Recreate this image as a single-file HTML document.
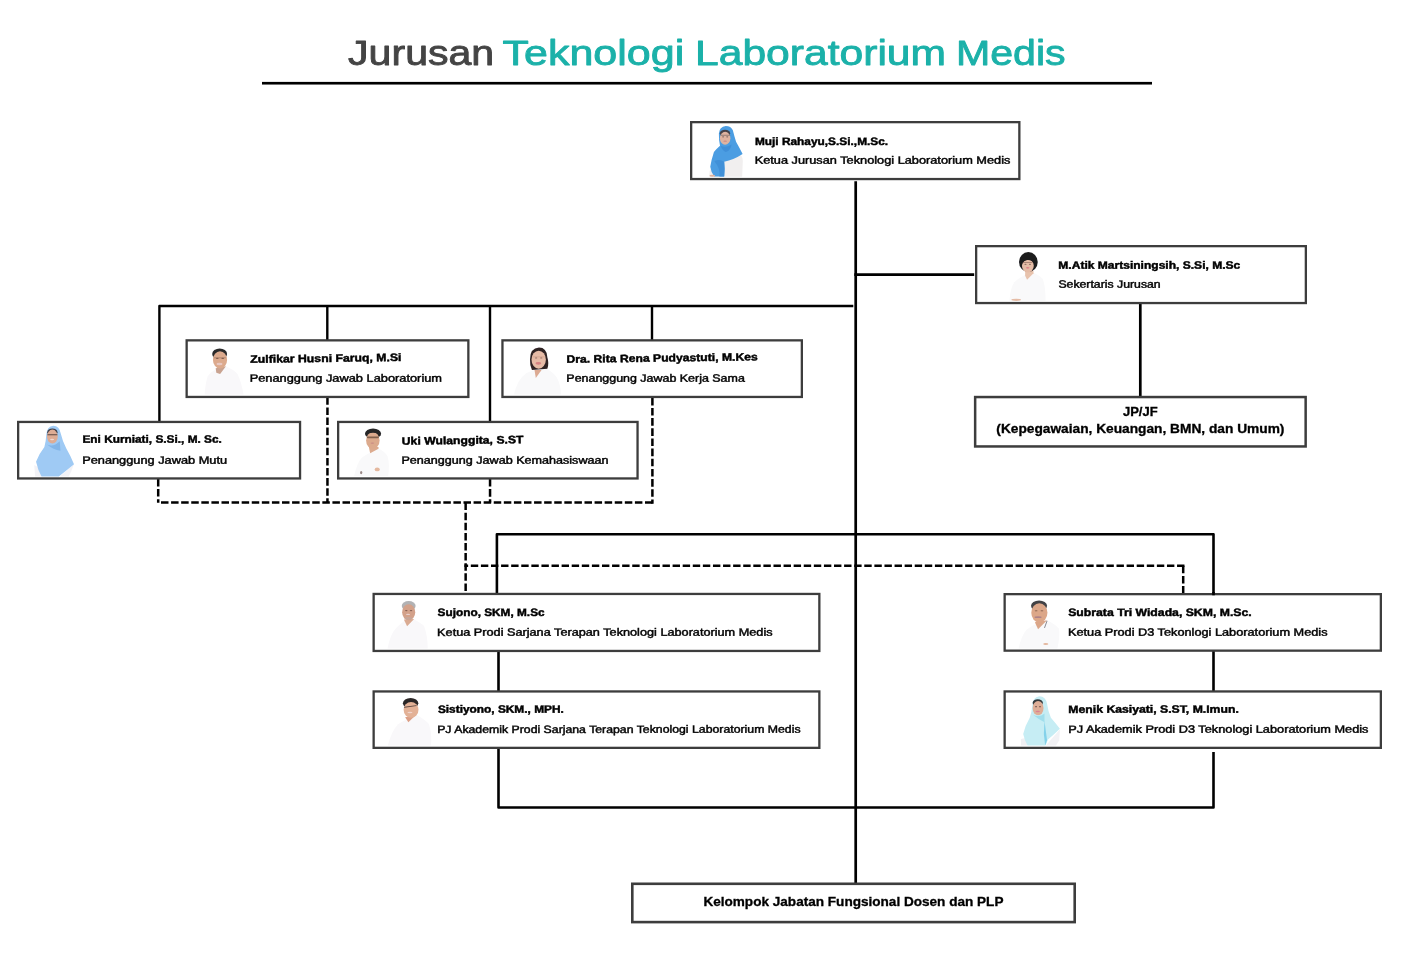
<!DOCTYPE html>
<html lang="id">
<head>
<meta charset="utf-8">
<title>Jurusan Teknologi Laboratorium Medis</title>
<style>
html,body{margin:0;padding:0;background:#fff;}
body{width:1414px;height:966px;overflow:hidden;position:relative;font-family:"Liberation Sans",sans-serif;}
svg{position:absolute;left:0;top:0;display:block;will-change:transform;}
text{font-family:"Liberation Sans",sans-serif;}
.nm{font-weight:700;font-size:10.7px;fill:#000;stroke:#000;stroke-width:.45px;}
.rl{font-weight:400;font-size:10.7px;fill:#050505;stroke:#050505;stroke-width:.45px;}
.bt{font-weight:700;font-size:12px;fill:#000;stroke:#000;stroke-width:.3px;}
.tt{font-size:35.3px;stroke-width:.85px;stroke-linejoin:round;}
.tg{fill:#444;stroke:#444;}
.tc{fill:#1bb1a9;stroke:#1bb1a9;}
.ln{stroke:#000;fill:none;stroke-width:2.7;}
.l2{stroke:#000;fill:none;stroke-width:2.4;stroke-linejoin:round;}
.ds{stroke:#000;fill:none;stroke-width:2.5;stroke-dasharray:7.5 2.6;}
.bx{fill:#fff;stroke:#3d3d3d;stroke-width:2.3;}
</style>
</head>
<body>
<svg width="1414" height="966" viewBox="0 0 1414 966">
<defs><filter id="bl" x="-10%" y="-10%" width="120%" height="120%"><feGaussianBlur stdDeviation="11"/></filter></defs>
<rect x="262" y="81.9" width="890" height="2.65" fill="#000"/>
<path class="ln" d="M855.7 181.2V883"/>
<path class="ln" d="M854.3 274.7H974.2"/>
<path class="ln" d="M1140.3 304V397"/>
<path class="l2" d="M853.3 306H159.4V422"/>
<path class="l2" d="M327.3 306V340"/>
<path class="l2" d="M490 306V422"/>
<path class="l2" d="M652 306V340"/>
<path class="ds" d="M158.2 479V502.8"/>
<path class="ds" style="stroke-dasharray:7.5 2.583" d="M161 502.6H653.7"/>
<path class="ds" style="stroke-dasharray:7.6 2.56" d="M652.4 397.8V503.8"/>
<path class="ds" style="stroke-dasharray:7.55 2.55" d="M327.45 397.3V502.6"/>
<path class="ds" style="stroke-dasharray:7.6 2.5" d="M490.05 479V502.6"/>
<path class="ds" d="M465.65 502.6V594"/>
<path class="ds" style="stroke-dasharray:7.4 2.689" d="M1184.45 565.8H464.4"/>
<path class="ds" style="stroke-dasharray:7.5 2.65" d="M1183.2 565.8V594"/>
<path class="l2" style="stroke-width:2.6" d="M1213.5 751.9V807.5H498.5V640"/>
<path class="l2" style="stroke-width:2.6" d="M496.9 600V534.3H1213.5V700"/>
<rect class="bx" x="691.15" y="122.15" width="328.20" height="56.90"/>
<rect class="bx" x="976.15" y="246.15" width="329.70" height="56.90"/>
<rect class="bx" x="186.65" y="340.35" width="281.70" height="56.60"/>
<rect class="bx" x="502.45" y="340.35" width="299.40" height="56.60"/>
<rect class="bx" x="18.15" y="421.95" width="281.90" height="56.50"/>
<rect class="bx" x="338.15" y="421.95" width="299.40" height="56.50"/>
<rect class="bx" x="373.65" y="593.95" width="445.70" height="57.00"/>
<rect class="bx" x="373.65" y="691.45" width="445.70" height="56.40"/>
<rect class="bx" x="1004.65" y="594.15" width="376.20" height="56.50"/>
<rect class="bx" x="1004.65" y="691.45" width="376.20" height="56.40"/>
<rect class="bx" style="stroke-width:2.5" x="975.15" y="397.05" width="330.50" height="49.40"/>
<rect class="bx" style="stroke-width:2.6" x="632.30" y="883.80" width="442.40" height="38.30"/>
<text class="tt tg" x="348.08" y="65.10" textLength="146.14" lengthAdjust="spacingAndGlyphs">Jurusan</text>
<text class="tt tc" x="502.46" y="65.10" textLength="181.75" lengthAdjust="spacingAndGlyphs">Teknologi</text>
<text class="tt tc" x="695.06" y="65.10" textLength="250.98" lengthAdjust="spacingAndGlyphs">Laboratorium</text>
<text class="tt tc" x="955.9" y="65.10" textLength="109.74" lengthAdjust="spacingAndGlyphs">Medis</text>
<text class="nm" x="754.91" y="145.00" textLength="133.24" lengthAdjust="spacingAndGlyphs" transform="rotate(-0.03 821.5 145.00)">Muji Rahayu,S.Si.,M.Sc.</text>
<text class="rl" x="754.71" y="163.80" textLength="255.65" lengthAdjust="spacingAndGlyphs" transform="rotate(-0.03 882.8 163.80)">Ketua Jurusan Teknologi Laboratorium Medis</text>
<text class="nm" x="1058.34" y="268.80" textLength="181.97" lengthAdjust="spacingAndGlyphs" transform="rotate(-0.03 1149.4 268.80)">M.Atik Martsiningsih, S.Si, M.Sc</text>
<text class="rl" x="1058.41" y="287.80" textLength="102.28" lengthAdjust="spacingAndGlyphs" transform="rotate(-0.03 1109.4 287.80)">Sekertaris Jurusan</text>
<text class="nm" x="250.37" y="362.87" textLength="151.13" lengthAdjust="spacingAndGlyphs" transform="rotate(-0.72 250.5 362.87)">Zulfikar Husni Faruq, M.Si</text>
<text class="rl" x="249.67" y="381.70" textLength="192.4" lengthAdjust="spacingAndGlyphs" transform="rotate(-0.03 346.0 381.70)">Penanggung Jawab Laboratorium</text>
<text class="nm" x="566.57" y="362.80" textLength="191.23" lengthAdjust="spacingAndGlyphs" transform="rotate(-0.72 567.2 362.80)">Dra. Rita Rena Pudyastuti, M.Kes</text>
<text class="rl" x="566.35" y="381.70" textLength="178.46" lengthAdjust="spacingAndGlyphs" transform="rotate(-0.03 655.9 381.70)">Penanggung Jawab Kerja Sama</text>
<text class="nm" x="82.45" y="442.80" textLength="139.4" lengthAdjust="spacingAndGlyphs" transform="rotate(-0.03 152.1 442.80)">Eni Kurniati, S.Si., M. Sc.</text>
<text class="rl" x="82.15" y="463.70" textLength="145.0" lengthAdjust="spacingAndGlyphs" transform="rotate(-0.03 154.8 463.70)">Penanggung Jawab Mutu</text>
<text class="nm" x="401.81" y="444.70" textLength="121.71" lengthAdjust="spacingAndGlyphs" transform="rotate(-0.72 402.2 444.70)">Uki Wulanggita, S.ST</text>
<text class="rl" x="401.44" y="463.70" textLength="207.06" lengthAdjust="spacingAndGlyphs" transform="rotate(-0.03 505.1 463.70)">Penanggung Jawab Kemahasiswaan</text>
<text class="nm" x="437.63" y="616.05" textLength="106.97" lengthAdjust="spacingAndGlyphs" transform="rotate(-0.03 491.1 616.05)">Sujono, SKM, M.Sc</text>
<text class="rl" x="437.11" y="635.80" textLength="335.49" lengthAdjust="spacingAndGlyphs" transform="rotate(-0.03 605.2 635.80)">Ketua Prodi Sarjana Terapan Teknologi Laboratorium Medis</text>
<text class="nm" x="437.9" y="712.85" textLength="125.92" lengthAdjust="spacingAndGlyphs" transform="rotate(-0.03 500.7 712.85)">Sistiyono, SKM., MPH.</text>
<text class="rl" x="437.15" y="732.90" textLength="363.41" lengthAdjust="spacingAndGlyphs" transform="rotate(-0.03 619.1 732.90)">PJ Akademik Prodi Sarjana Terapan Teknologi Laboratorium Medis</text>
<text class="nm" x="1068.2" y="615.94" textLength="183.48" lengthAdjust="spacingAndGlyphs" transform="rotate(-0.03 1159.8 615.94)">Subrata Tri Widada, SKM, M.Sc.</text>
<text class="rl" x="1067.96" y="635.80" textLength="259.56" lengthAdjust="spacingAndGlyphs" transform="rotate(-0.03 1197.9 635.80)">Ketua Prodi D3 Tekonlogi Laboratorium Medis</text>
<text class="nm" x="1068.36" y="712.85" textLength="170.47" lengthAdjust="spacingAndGlyphs" transform="rotate(-0.03 1153.6 712.85)">Menik Kasiyati, S.ST, M.Imun.</text>
<text class="rl" x="1068.17" y="732.80" textLength="300.35" lengthAdjust="spacingAndGlyphs" transform="rotate(-0.03 1218.7 732.80)">PJ Akademik Prodi D3 Teknologi Laboratorium Medis</text>
<text class="bt" x="1122.96" y="415.80" textLength="34.73" lengthAdjust="spacingAndGlyphs">JP/JF</text>
<text class="bt" x="996.34" y="433.00" textLength="288.1" lengthAdjust="spacingAndGlyphs">(Kepegawaian, Keuangan, BMN, dan Umum)</text>
<text class="bt" x="703.41" y="906.20" textLength="300.05" lengthAdjust="spacingAndGlyphs">Kelompok Jabatan Fungsional Dosen dan PLP</text>
<g transform="translate(695 120) scale(0.06416)" filter="url(#bl)"><path d="M222 885 L228 800 Q240 745 300 720 L460 640 L690 535 Q745 560 745 640 L735 885 Z" fill="#f1efef"/>
<path d="M480 92 Q380 100 372 210 Q370 320 390 400 Q330 450 295 500 Q255 620 238 730 Q250 820 300 882 L455 882 Q470 760 455 650 Q600 620 742 528 Q690 430 640 340 Q615 260 590 160 Q560 92 480 92 Z" fill="#4b9de2"/>
<path d="M300 640 Q380 600 455 650 Q465 760 455 882 L380 882 Q400 760 300 640Z" fill="#4090d8"/>
<path d="M400 400 Q480 440 570 380 Q560 470 480 500 Q420 470 400 400Z" fill="#3f8fd8"/>
<ellipse cx="468" cy="205" rx="80" ry="52" fill="#45434a"/>
<ellipse cx="470" cy="285" rx="82" ry="100" fill="#dfb3a0"/>
<ellipse cx="438" cy="262" rx="16" ry="9" fill="#5a4744" opacity=".7"/><ellipse cx="502" cy="262" rx="16" ry="9" fill="#5a4744" opacity=".7"/>
<rect x="395" y="230" width="155" height="15" rx="7" fill="#7b6a66" opacity=".75"/>
<ellipse cx="470" cy="330" rx="28" ry="10" fill="#cf8a84"/>
<ellipse cx="270" cy="870" rx="45" ry="16" fill="#dfb3a0"/></g>
<g transform="translate(995 245) scale(0.06416)" filter="url(#bl)"><path d="M225 872 Q235 680 300 580 Q340 540 470 465 L600 430 Q700 480 745 530 Q790 650 788 872 Z" fill="#f9f9fa"/>
<path d="M470 400 L600 400 L600 440 L500 540 L470 480Z" fill="#e8c3ad"/>
<ellipse cx="520" cy="265" rx="146" ry="155" fill="#1b1b1d"/>
<ellipse cx="512" cy="322" rx="92" ry="105" fill="#e5bca6"/>
<ellipse cx="475" cy="300" rx="16" ry="9" fill="#4a3530" opacity=".7"/><ellipse cx="545" cy="300" rx="16" ry="9" fill="#4a3530" opacity=".7"/>
<path d="M418 300 Q425 200 520 188 Q605 195 612 290 Q570 225 500 235 Q450 245 418 300Z" fill="#1b1b1d"/>
<ellipse cx="510" cy="355" rx="28" ry="10" fill="#dc6f7e"/>
<rect x="430" y="268" width="160" height="12" rx="6" fill="#6a4a40" opacity=".6"/>
<ellipse cx="330" cy="855" rx="75" ry="16" fill="#e5bca6"/></g>
<g transform="translate(190 338) scale(0.06416)" filter="url(#bl)"><path d="M228 882 Q240 700 275 600 Q310 540 420 485 L560 440 Q690 500 740 560 Q800 680 835 882 Z" fill="#f9f8fa"/>
<path d="M400 470 L560 440 L470 560 L410 540Z" fill="#c9a391"/>
<ellipse cx="462" cy="250" rx="116" ry="88" fill="#2a2a2c"/>
<ellipse cx="468" cy="342" rx="110" ry="135" fill="#dcaa8d"/>
<ellipse cx="425" cy="318" rx="20" ry="9" fill="#5a3c30" opacity=".65"/><ellipse cx="510" cy="318" rx="20" ry="9" fill="#5a3c30" opacity=".65"/>
<rect x="370" y="302" width="190" height="14" rx="7" fill="#7a5a4c" opacity=".6"/>
<ellipse cx="460" cy="405" rx="48" ry="20" fill="#e8c8c2"/></g>
<g transform="translate(505 338) scale(0.06416)" filter="url(#bl)"><path d="M140 882 Q190 650 330 550 Q400 510 620 460 Q760 540 810 620 Q872 740 872 882 Z" fill="#f9f9fa"/>
<path d="M530 150 Q390 160 390 330 Q385 430 420 500 L660 480 Q690 400 660 300 Q650 150 530 150Z" fill="#2e2224"/>
<ellipse cx="525" cy="338" rx="112" ry="140" fill="#e6bba6"/>
<ellipse cx="485" cy="310" rx="18" ry="9" fill="#6a4a44" opacity=".6"/><ellipse cx="565" cy="310" rx="18" ry="9" fill="#6a4a44" opacity=".6"/>
<path d="M460 500 L570 500 L480 625Z" fill="#dcaa92"/>
<ellipse cx="520" cy="395" rx="45" ry="20" fill="#d68282"/>
<rect x="430" y="290" width="190" height="10" rx="5" fill="#c99a88" opacity=".8"/></g>
<g transform="translate(20 420) scale(0.06416)" filter="url(#bl)"><path d="M222 700 L330 760 L330 882 L235 882Z" fill="#f2f2f6"/>
<path d="M620 882 L840 690 L800 800 L760 882Z" fill="#f2f2f6"/>
<path d="M520 88 Q420 95 410 230 Q405 330 380 420 Q300 520 250 650 Q280 780 335 882 L605 882 Q720 790 842 690 Q790 560 720 440 Q660 320 635 210 Q615 90 520 88Z" fill="#9fcaf4"/>
<path d="M420 380 Q520 430 620 330 L630 480 Q520 460 420 380Z" fill="#82b5e8"/>
<ellipse cx="505" cy="190" rx="80" ry="58" fill="#3e3e48"/>
<ellipse cx="505" cy="258" rx="84" ry="108" fill="#deac94"/>

<rect x="425" y="222" width="160" height="16" rx="8" fill="#3a3030" opacity=".8"/>
<ellipse cx="500" cy="305" rx="32" ry="12" fill="#f0d8d0"/></g>
<g transform="translate(340 420) scale(0.06416)" filter="url(#bl)"><path d="M220 872 Q270 660 340 590 Q380 550 600 440 Q700 500 740 560 Q780 700 750 872 Z" fill="#f9f9fa"/>
<path d="M450 420 L600 420 L600 450 L470 520Z" fill="#dcab8f"/>
<ellipse cx="515" cy="212" rx="125" ry="80" fill="#262628"/>
<ellipse cx="512" cy="318" rx="105" ry="130" fill="#dcaa8d"/>
<path d="M395 240 Q400 150 515 140 Q630 150 635 250 Q600 200 515 200 Q430 200 395 240Z" fill="#262628"/>
<rect x="420" y="258" width="185" height="28" rx="12" fill="#5a4030" opacity=".7"/>
<ellipse cx="505" cy="360" rx="30" ry="10" fill="#c98a84"/>
<ellipse cx="580" cy="770" rx="40" ry="30" fill="#e4b89e"/>
<ellipse cx="330" cy="820" rx="18" ry="26" fill="#9a8a88"/></g>
<g transform="translate(375 592) scale(0.06416)" filter="url(#bl)"><path d="M195 882 Q235 660 330 560 Q380 510 450 455 L610 430 Q720 490 765 530 Q820 680 822 882Z" fill="#f9f8fa"/>
<path d="M450 430 L610 420 L500 535Z" fill="#daab92"/>
<ellipse cx="525" cy="218" rx="108" ry="76" fill="#b2b2b4"/>
<ellipse cx="525" cy="315" rx="102" ry="125" fill="#d3a18a"/>
<ellipse cx="488" cy="290" rx="20" ry="9" fill="#5a3c34" opacity=".65"/><ellipse cx="562" cy="290" rx="20" ry="9" fill="#5a3c34" opacity=".65"/>
<ellipse cx="515" cy="350" rx="32" ry="10" fill="#e8cfcb"/>
<ellipse cx="520" cy="410" rx="60" ry="22" fill="#c7a79a"/></g>
<g transform="translate(375 689) scale(0.06416)" filter="url(#bl)"><path d="M200 882 Q260 650 360 550 Q420 500 660 410 Q780 480 840 545 Q892 700 872 882Z" fill="#f9f8fa"/>
<path d="M470 440 L640 400 L520 520Z" fill="#dc9f86"/>
<ellipse cx="555" cy="222" rx="120" ry="80" fill="#2b2727"/>
<ellipse cx="562" cy="325" rx="116" ry="124" fill="#e3b196"/>

<rect x="450" y="265" width="200" height="13" rx="6" fill="#3a2a28" opacity=".8" transform="rotate(-8 550 272)"/>
<ellipse cx="545" cy="365" rx="40" ry="12" fill="#f0d4cc"/></g>
<g transform="translate(1006 592) scale(0.06416)" filter="url(#bl)"><path d="M195 882 Q240 680 320 590 Q360 550 450 505 L650 440 Q770 510 825 570 Q842 700 800 882Z" fill="#f9f9fa"/>
<path d="M450 470 L640 440 L500 580Z" fill="#dba688"/>
<ellipse cx="515" cy="216" rx="125" ry="84" fill="#424244"/>
<ellipse cx="520" cy="325" rx="126" ry="150" fill="#dca789"/>
<ellipse cx="470" cy="292" rx="22" ry="9" fill="#5a3c30" opacity=".65"/><ellipse cx="560" cy="292" rx="22" ry="9" fill="#5a3c30" opacity=".65"/>
<ellipse cx="500" cy="392" rx="55" ry="15" fill="#ae8288"/>
<ellipse cx="620" cy="810" rx="40" ry="15" fill="#e4b89e"/>
<path d="M640 450 L600 560" stroke="#7c7c86" stroke-width="14" fill="none"/></g>
<g transform="translate(1006 689) scale(0.06416)" filter="url(#bl)"><path d="M232 780 L330 760 L330 882 L235 882Z" fill="#f0f0f3"/>
<path d="M620 882 L840 630 L830 800 L780 882Z" fill="#f2f2f5"/>
<path d="M520 112 Q410 125 408 270 Q400 370 370 450 Q300 570 268 700 Q290 800 335 882 L610 882 Q640 840 650 790 Q760 700 840 620 Q770 530 700 450 Q655 340 642 240 Q625 115 520 112Z" fill="#c6edf4"/>
<path d="M600 500 L640 800 L610 882 L590 700Z" fill="#84d2ea"/>
<path d="M420 400 Q520 450 600 380 L600 520 Q520 480 420 400Z" fill="#a0deec"/>
<ellipse cx="495" cy="215" rx="80" ry="56" fill="#343a3e"/>
<ellipse cx="500" cy="298" rx="85" ry="112" fill="#deae97"/>
<ellipse cx="468" cy="275" rx="16" ry="9" fill="#4a3530" opacity=".7"/><ellipse cx="530" cy="275" rx="16" ry="9" fill="#4a3530" opacity=".7"/>
<ellipse cx="495" cy="350" rx="35" ry="12" fill="#dc8092"/></g>
<path class="l2" style="stroke-width:2.6" d="M1213.5 592V595.3"/>
</svg>
</body>
</html>
